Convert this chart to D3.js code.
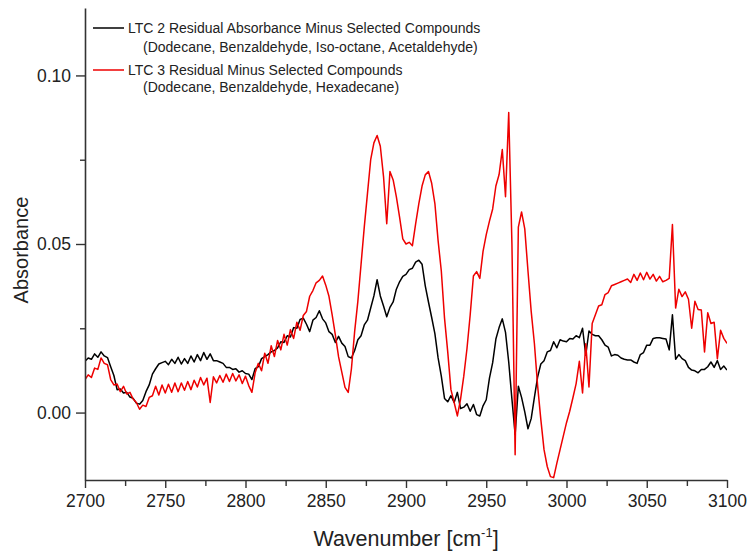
<!DOCTYPE html>
<html>
<head>
<meta charset="utf-8">
<script src="https://cdn.jsdelivr.net/npm/d3@7"></script>
<style>
  body { margin: 0; background: #fff; }
  svg { display: block; }
  text { font-family: "Liberation Sans", Arial, sans-serif; fill: #222; }
</style>
</head>
<body>
<svg id="chart" width="750" height="552"></svg>
<script>
// Spectra sampled every 2 cm-1 from 2700 to 3100 cm-1 (absorbance units)
const waveStart = 2700;
const waveStep = 2;

// LTC 2 residual absorbance minus selected compounds
const ltc2 = [
  0.0152,0.0162,0.0158,0.0174,0.0164,0.0180,0.0168,0.0163,0.0136,0.0110,
  0.0068,0.0070,0.0058,0.0060,0.0046,0.0042,0.0028,0.0025,0.0036,0.0062,
  0.0082,0.0114,0.0130,0.0144,0.0148,0.0152,0.0142,0.0158,0.0146,0.0164,
  0.0144,0.0160,0.0146,0.0168,0.0150,0.0172,0.0154,0.0178,0.0158,0.0174,
  0.0154,0.0154,0.0150,0.0146,0.0134,0.0134,0.0128,0.0130,0.0120,0.0124,
  0.0116,0.0114,0.0098,0.0130,0.0136,0.0160,0.0166,0.0172,0.0180,0.0184,
  0.0192,0.0210,0.0208,0.0228,0.0224,0.0252,0.0250,0.0276,0.0280,0.0262,
  0.0240,0.0274,0.0282,0.0302,0.0278,0.0266,0.0240,0.0232,0.0208,0.0226,
  0.0206,0.0196,0.0166,0.0162,0.0184,0.0216,0.0228,0.0260,0.0274,0.0310,
  0.0346,0.0394,0.0346,0.0316,0.0284,0.0312,0.0328,0.0366,0.0388,0.0404,
  0.0410,0.0424,0.0428,0.0446,0.0452,0.0440,0.0376,0.0328,0.0282,0.0234,
  0.0162,0.0108,0.0042,0.0032,0.0050,0.0030,0.0060,0.0012,0.0016,0.0026,
  0.0004,0.0024,-0.0006,-0.0010,0.0020,0.0038,0.0102,0.0148,0.0218,0.0252,
  0.0278,0.0238,0.0150,0.0040,-0.0065,0.0078,0.0045,0.0002,-0.0048,-0.0018,
  0.0045,0.0105,0.0144,0.0154,0.0180,0.0184,0.0210,0.0192,0.0216,0.0212,
  0.0210,0.0220,0.0218,0.0228,0.0222,0.0250,0.0170,0.0242,0.0232,0.0228,
  0.0228,0.0216,0.0200,0.0194,0.0168,0.0172,0.0170,0.0162,0.0158,0.0156,
  0.0156,0.0150,0.0146,0.0172,0.0178,0.0200,0.0200,0.0220,0.0222,0.0222,
  0.0220,0.0218,0.0186,0.0290,0.0158,0.0172,0.0160,0.0154,0.0134,0.0126,
  0.0124,0.0118,0.0128,0.0128,0.0136,0.0150,0.0134,0.0154,0.0128,0.0138,
  0.0126
];

// LTC 3 residual minus selected compounds
const ltc3 = [
  0.0098,0.0112,0.0104,0.0132,0.0128,0.0162,0.0146,0.0142,0.0098,0.0082,
  0.0085,0.0062,0.0078,0.0055,0.0060,0.0040,0.0030,0.0010,0.0022,0.0018,
  0.0045,0.0050,0.0078,0.0052,0.0082,0.0058,0.0084,0.0060,0.0088,0.0062,
  0.0088,0.0066,0.0092,0.0068,0.0096,0.0076,0.0104,0.0082,0.0102,0.0030,
  0.0106,0.0088,0.0110,0.0090,0.0114,0.0092,0.0116,0.0094,0.0112,0.0086,
  0.0108,0.0080,0.0060,0.0118,0.0146,0.0124,0.0176,0.0146,0.0198,0.0166,
  0.0214,0.0186,0.0232,0.0200,0.0246,0.0220,0.0268,0.0244,0.0288,0.0300,
  0.0345,0.0362,0.0385,0.0392,0.0405,0.0378,0.0345,0.0290,0.0230,0.0165,
  0.0120,0.0075,0.0060,0.0130,0.0240,0.0330,0.0440,0.0550,0.0650,0.0750,
  0.0800,0.0822,0.0790,0.0700,0.0560,0.0715,0.0690,0.0640,0.0580,0.0515,
  0.0500,0.0505,0.0495,0.0560,0.0620,0.0672,0.0705,0.0715,0.0680,0.0620,
  0.0510,0.0420,0.0280,0.0180,0.0068,0.0030,-0.0010,0.0040,0.0108,0.0190,
  0.0290,0.0405,0.0418,0.0398,0.0478,0.0528,0.0568,0.0604,0.0672,0.0706,
  0.0780,0.0640,0.0890,0.0500,-0.0125,0.0550,0.0595,0.0545,0.0420,0.0300,
  0.0205,0.0080,-0.0020,-0.0110,-0.0160,-0.0190,-0.0193,-0.0150,-0.0110,-0.0070,
  -0.0030,0.0004,0.0044,0.0086,0.0152,0.0058,0.0204,0.0076,0.0264,0.0290,
  0.0316,0.0320,0.0350,0.0356,0.0376,0.0380,0.0384,0.0388,0.0392,0.0396,
  0.0386,0.0410,0.0392,0.0414,0.0394,0.0416,0.0396,0.0410,0.0390,0.0404,
  0.0388,0.0392,0.0398,0.0558,0.0310,0.0366,0.0344,0.0358,0.0336,0.0250,
  0.0330,0.0306,0.0304,0.0180,0.0296,0.0264,0.0268,0.0160,0.0244,0.0220,
  0.0205
];

const xMajorTicks = [2700, 2750, 2800, 2850, 2900, 2950, 3000, 3050, 3100];
const xMinorTicks = [2725, 2775, 2825, 2875, 2925, 2975, 3025, 3075];
const yMajorTicks = [0.00, 0.05, 0.10];
const yMinorTicks = [0.025, 0.075];

const seriesNames = [
  ["LTC 2 Residual Absorbance Minus Selected Compounds",
   "(Dodecane, Benzaldehyde, Iso-octane, Acetaldehyde)"],
  ["LTC 3 Residual Minus Selected Compounds",
   "(Dodecane, Benzaldehyde, Hexadecane)"]
];
const seriesColors = ["#000000", "#ee0000"];

// ---- layout ----
const svg = d3.select("#chart");
const plot = { left: 85, right: 727, top: 8, bottom: 480 };

const x = d3.scaleLinear().domain([2700, 3100]).range([plot.left, plot.right]);
const y = d3.scaleLinear().domain([-0.02, 0.12]).range([plot.bottom, plot.top]);

svg.append("defs").append("clipPath").attr("id", "plot-clip")
  .append("rect")
  .attr("x", plot.left).attr("y", plot.top)
  .attr("width", plot.right - plot.left).attr("height", plot.bottom - plot.top);

// ---- spectra ----
const toPoints = vals => vals.map((v, i) => [waveStart + i * waveStep, v]);
const line = d3.line().x(d => x(d[0])).y(d => y(d[1]));

const curves = svg.append("g").attr("clip-path", "url(#plot-clip)");
[ltc2, ltc3].forEach((vals, i) => {
  curves.append("path")
    .datum(toPoints(vals))
    .attr("d", line)
    .attr("fill", "none")
    .attr("stroke", seriesColors[i])
    .attr("stroke-width", 1.5)
    .attr("stroke-linejoin", "round");
});

// ---- axes ----
const axisColor = "#333";
function styleAxis(g) {
  g.select(".domain").attr("stroke", axisColor).attr("stroke-width", 1.6);
  g.selectAll(".tick line").attr("stroke", axisColor).attr("stroke-width", 1.4);
  g.selectAll(".tick text").attr("fill", "#222").style("font-size", "17.5px")
    .style("font-family", "'Liberation Sans', Arial, sans-serif");
}

svg.append("g")
  .attr("transform", `translate(0,${plot.bottom})`)
  .call(d3.axisBottom(x).tickValues(xMajorTicks).tickFormat(d3.format("d"))
    .tickSize(8).tickPadding(7).tickSizeOuter(0))
  .call(styleAxis);

svg.append("g")
  .attr("transform", `translate(0,${plot.bottom})`)
  .call(d3.axisBottom(x).tickValues(xMinorTicks).tickFormat("").tickSize(6).tickSizeOuter(0))
  .call(g => g.select(".domain").remove())
  .call(g => g.selectAll(".tick line").attr("stroke", axisColor).attr("stroke-width", 1.4));

svg.append("g")
  .attr("transform", `translate(${plot.left},0)`)
  .call(d3.axisLeft(y).tickValues(yMajorTicks).tickFormat(d3.format(".2f"))
    .tickSize(9).tickPadding(5).tickSizeOuter(0))
  .call(styleAxis);

svg.append("g")
  .attr("transform", `translate(${plot.left},0)`)
  .call(d3.axisLeft(y).tickValues(yMinorTicks).tickFormat("").tickSize(5).tickSizeOuter(0))
  .call(g => g.select(".domain").remove())
  .call(g => g.selectAll(".tick line").attr("stroke", axisColor).attr("stroke-width", 1.4));

// ---- axis titles ----
const xTitle = svg.append("text")
  .attr("x", (plot.left + plot.right) / 2)
  .attr("y", 546)
  .attr("text-anchor", "middle")
  .style("font-size", "21.5px");
xTitle.append("tspan").text("Wavenumber [cm");
xTitle.append("tspan").text("-1").style("font-size", "13px").attr("dy", -9);
xTitle.append("tspan").text("]").attr("dy", 9);

svg.append("text")
  .attr("transform", "translate(28,250) rotate(-90)")
  .attr("text-anchor", "middle")
  .style("font-size", "20px")
  .text("Absorbance");

// ---- legend ----
const legend = svg.append("g").style("font-size", "14px");
const legendRowY = [[28, 47], [70, 87]];
seriesNames.forEach((rows, i) => {
  const [y1, y2] = legendRowY[i];
  legend.append("line")
    .attr("x1", 93).attr("x2", 124).attr("y1", y1).attr("y2", y1)
    .attr("stroke", seriesColors[i]).attr("stroke-width", 1.5);
  legend.append("text").attr("x", 128).attr("y", y1).attr("dy", "0.35em").text(rows[0]);
  legend.append("text").attr("x", 143).attr("y", y2).attr("dy", "0.35em").text(rows[1]);
});
</script>
</body>
</html>
